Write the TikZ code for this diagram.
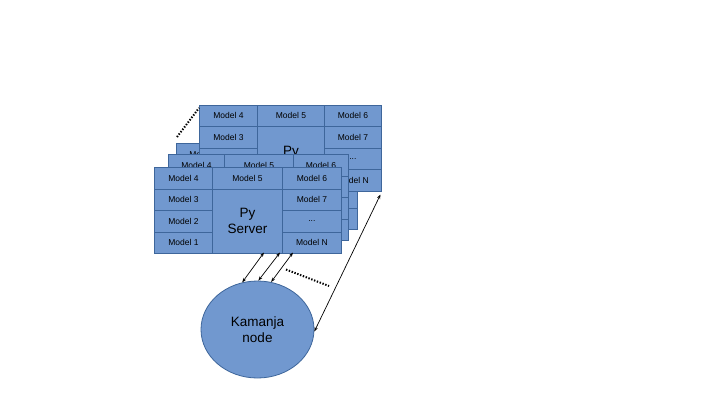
\documentclass[tikz,border=0pt]{standalone}
\usepackage{fontspec}
\setmainfont{Liberation Sans}
\usetikzlibrary{arrows.meta,shapes.geometric}
\definecolor{cellfill}{RGB}{113,152,207}
\definecolor{celldraw}{RGB}{62,102,155}
\tikzset{
  cell/.style={draw=celldraw, fill=cellfill, line width=0.8pt, inner sep=0pt, anchor=north west, font=\fontsize{8.5}{10}\selectfont, text=black},
  bigcell/.style={cell, align=center, font=\fontsize{13.5}{15.5}\selectfont},
  link/.style={line width=0.7pt, {Stealth[length=4.5pt,width=3.2pt]}-{Stealth[length=4.5pt,width=3.2pt]}},
  dots/.style={line width=2pt, dash pattern=on 1.4pt off 1.6pt},
}
% #1 name, #2 x, #3 y, #4 #5 #6 column widths
\newcommand\mpanel[6]{%
  \begin{scope}[shift={(#2,#3)}]
    \node[cell, minimum width=#4pt, minimum height=21.5pt] (#1-m4) at (0,0) {Model 4};
    \node[cell, minimum width=#4pt, minimum height=21.5pt] (#1-m3) at (0,21.5) {Model 3};
    \node[cell, minimum width=#4pt, minimum height=21.5pt] (#1-m2) at (0,43) {Model 2};
    \node[cell, minimum width=#4pt, minimum height=21.5pt] (#1-m1) at (0,64.5) {Model 1};
    \node[cell, minimum width=#5pt, minimum height=21.5pt] (#1-m5) at (#4,0) {Model 5};
    \node[bigcell, minimum width=#5pt, minimum height=64.5pt] (#1-py) at (#4,21.5) {Py\\Server};
    \node[cell, minimum width=#6pt, minimum height=21.5pt] (#1-m6) at (#4+#5,0) {Model 6};
    \node[cell, minimum width=#6pt, minimum height=21.5pt] (#1-m7) at (#4+#5,21.5) {Model 7};
    \node[cell, minimum width=#6pt, minimum height=21.5pt] (#1-md) at (#4+#5,43) {...};
    \node[cell, minimum width=#6pt, minimum height=21.5pt] (#1-mn) at (#4+#5,64.5) {Model N};
  \end{scope}}
\begin{document}
\begin{tikzpicture}[x=1pt,y=-1pt]
\useasboundingbox (0,0) rectangle (720,405);
\mpanel{third}{176}{143}{56}{69}{56}
\mpanel{back}{199}{104.5}{58}{67}{57}
\mpanel{second}{168}{154}{56}{69}{55}
\mpanel{front}{154}{167}{58}{70}{59}
\node[ellipse, draw=celldraw, fill=cellfill, line width=0.8pt, minimum width=113pt, minimum height=97pt, align=center, font=\fontsize{13.5}{15.5}\selectfont, inner sep=0pt] (kam) at (257.5,329.5) {Kamanja\\node};
% connector end points on the panels
\coordinate (pa) at (264,252.5);
\coordinate (pb) at (280,252.5);
\coordinate (pc) at (293,252.5);
\coordinate (pd) at (380.5,194.5);
\coordinate (d1a) at (177,137);
\coordinate (d1b) at (199,108);
\coordinate (d2a) at (286,269.5);
\coordinate (d2b) at (329,286);
\draw[link] (kam.108) -- (pa);
\draw[link] (kam.89) -- (pb);
\draw[link] (kam.74) -- (pc);
\draw[link] (kam.-2) -- (pd);
\draw[dots] (d1a) -- (d1b);
\draw[dots] (d2a) -- (d2b);
\end{tikzpicture}
\end{document}
